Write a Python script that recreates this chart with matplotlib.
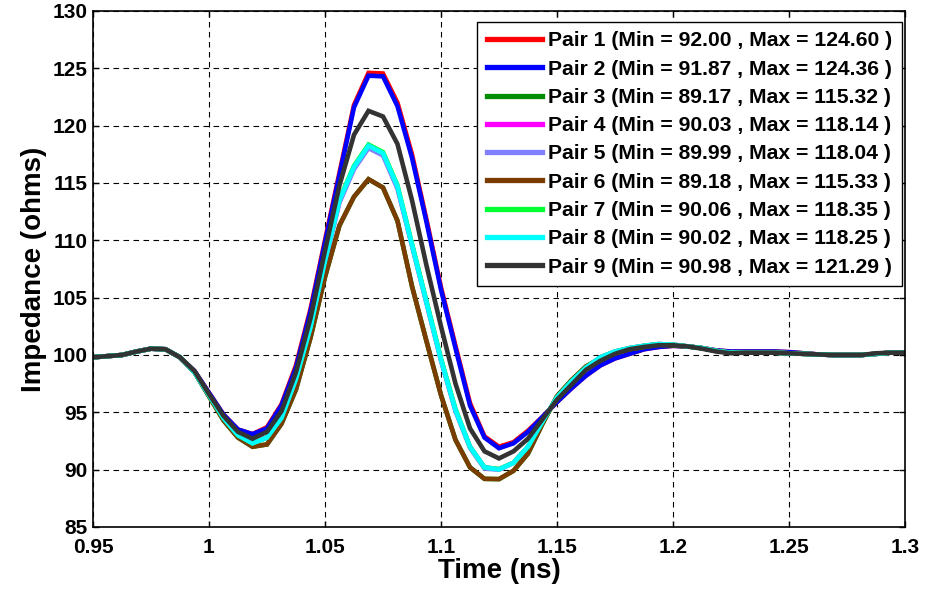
import numpy as np
import matplotlib
matplotlib.use('Agg')
import matplotlib.pyplot as plt

plt.rcParams['font.family'] = ['Liberation Sans', 'DejaVu Sans']
plt.rcParams['font.weight'] = 'bold'

# time axis: 0.95 .. 1.3 ns, step 6.25 ps
t_ns = np.linspace(0.95, 1.3, 57)

pair1 = [99.8, 99.9, 100.0, 100.3, 100.55, 100.5, 99.8, 98.6, 96.7, 94.8,
         93.5, 93.1, 93.7, 95.7, 99.1, 104.0, 110.0, 115.9, 121.8, 124.6,
         124.55, 122.0, 117.5, 111.8, 105.9, 100.8, 95.8, 92.9, 92.0, 92.4,
         93.4, 94.6, 95.9, 97.1, 98.2, 99.1, 99.7, 100.1, 100.5, 100.7,
         100.8, 100.75, 100.6, 100.4, 100.3, 100.3, 100.3, 100.3, 100.25, 100.15,
         100.05, 100.0, 100.0, 100.0, 100.1, 100.2, 100.2]
pair2 = [99.8, 99.9, 100.0, 100.3, 100.55, 100.5, 99.8, 98.6, 96.7, 94.8,
         93.5, 93.1, 93.6, 95.6, 98.9, 103.8, 109.8, 115.7, 121.6, 124.36,
         124.3, 121.7, 117.2, 111.6, 105.7, 100.6, 95.6, 92.8, 91.87, 92.3,
         93.3, 94.6, 95.9, 97.1, 98.2, 99.1, 99.7, 100.1, 100.5, 100.7,
         100.8, 100.75, 100.6, 100.4, 100.3, 100.3, 100.3, 100.3, 100.25, 100.15,
         100.05, 100.0, 100.0, 100.0, 100.1, 100.2, 100.2]
pair3 = [99.8, 99.9, 100.0, 100.3, 100.55, 100.5, 99.8, 98.5, 96.4, 94.3,
         92.8, 92.0, 92.2, 94.0, 97.0, 101.5, 106.8, 111.3, 113.8, 115.32,
         114.6, 111.7, 106.0, 101.2, 96.5, 92.6, 90.2, 89.2, 89.17, 89.9,
         91.4, 94.0, 96.4, 97.8, 99.0, 99.7, 100.2, 100.5, 100.7, 100.9,
         100.85, 100.75, 100.6, 100.35, 100.2, 100.2, 100.2, 100.2, 100.15, 100.1,
         100.05, 100.0, 100.0, 100.0, 100.1, 100.2, 100.2]
pair4 = [99.8, 99.9, 100.0, 100.3, 100.55, 100.5, 99.8, 98.5, 96.5, 94.5,
         93.0, 92.3, 92.8, 94.5, 97.9, 102.4, 108.2, 113.4, 116.3, 118.14,
         117.5, 114.6, 109.6, 104.6, 99.6, 95.2, 92.0, 90.2, 90.03, 90.6,
         92.0, 94.2, 96.3, 97.7, 98.9, 99.8, 100.3, 100.6, 100.8, 100.95,
         100.9, 100.75, 100.6, 100.35, 100.2, 100.2, 100.2, 100.2, 100.15, 100.1,
         100.05, 100.0, 100.0, 100.0, 100.1, 100.2, 100.2]
pair5 = [99.8, 99.9, 100.0, 100.3, 100.55, 100.5, 99.8, 98.5, 96.5, 94.5,
         93.0, 92.3, 92.8, 94.5, 97.8, 102.3, 108.1, 113.3, 116.2, 118.04,
         117.4, 114.5, 109.5, 104.5, 99.5, 95.1, 91.9, 90.1, 89.99, 90.6,
         92.0, 94.2, 96.3, 97.7, 98.9, 99.8, 100.3, 100.6, 100.8, 100.95,
         100.9, 100.75, 100.6, 100.35, 100.2, 100.2, 100.2, 100.2, 100.15, 100.1,
         100.05, 100.0, 100.0, 100.0, 100.1, 100.2, 100.2]
pair6 = [99.8, 99.9, 100.0, 100.3, 100.55, 100.5, 99.8, 98.5, 96.4, 94.3,
         92.8, 92.0, 92.2, 94.0, 97.0, 101.5, 106.8, 111.3, 113.8, 115.33,
         114.6, 111.7, 106.0, 101.2, 96.5, 92.6, 90.2, 89.2, 89.18, 89.9,
         91.4, 94.0, 96.4, 97.8, 99.0, 99.7, 100.2, 100.5, 100.7, 100.9,
         100.85, 100.75, 100.6, 100.35, 100.2, 100.2, 100.2, 100.2, 100.15, 100.1,
         100.05, 100.0, 100.0, 100.0, 100.1, 100.2, 100.2]
pair7 = [99.8, 99.9, 100.0, 100.3, 100.55, 100.5, 99.8, 98.5, 96.5, 94.5,
         93.0, 92.3, 92.8, 94.6, 98.0, 102.5, 108.4, 113.6, 116.5, 118.35,
         117.7, 114.8, 109.7, 104.7, 99.7, 95.3, 92.0, 90.2, 90.06, 90.6,
         92.0, 94.2, 96.3, 97.7, 98.9, 99.8, 100.3, 100.6, 100.8, 100.95,
         100.9, 100.75, 100.6, 100.35, 100.2, 100.2, 100.2, 100.2, 100.15, 100.1,
         100.05, 100.0, 100.0, 100.0, 100.1, 100.2, 100.2]
pair8 = [99.8, 99.9, 100.0, 100.3, 100.55, 100.5, 99.8, 98.5, 96.5, 94.5,
         93.0, 92.3, 92.8, 94.5, 97.9, 102.4, 108.2, 113.5, 116.4, 118.25,
         117.6, 114.7, 109.6, 104.6, 99.6, 95.2, 92.0, 90.2, 90.02, 90.6,
         92.0, 94.2, 96.3, 97.7, 98.9, 99.8, 100.3, 100.6, 100.8, 100.95,
         100.9, 100.75, 100.6, 100.35, 100.2, 100.2, 100.2, 100.2, 100.15, 100.1,
         100.05, 100.0, 100.0, 100.0, 100.1, 100.2, 100.2]
pair9 = [99.8, 99.9, 100.0, 100.3, 100.55, 100.5, 99.8, 98.6, 96.6, 94.7,
         93.3, 92.7, 93.3, 95.1, 98.5, 103.2, 109.1, 114.8, 119.2, 121.29,
         120.8, 118.4, 113.5, 107.8, 102.5, 97.5, 93.6, 91.6, 90.98, 91.6,
         92.7, 94.4, 96.1, 97.4, 98.7, 99.5, 100.1, 100.5, 100.7, 100.85,
         100.85, 100.75, 100.55, 100.3, 100.15, 100.2, 100.2, 100.2, 100.15, 100.1,
         100.05, 100.0, 100.0, 100.0, 100.15, 100.2, 100.2]

series = [pair1, pair2, pair3, pair4, pair5, pair6, pair7, pair8, pair9]
colors = ['#ff0000', '#0000ff', '#008c00', '#ff00ff', '#8080ff',
          '#7a3c00', '#00ff33', '#00ffff', '#333333']
labels = []
for i, s in enumerate(series):
    labels.append('Pair %d (Min = %.2f , Max = %.2f )' % (i + 1, min(s), max(s)))

fig = plt.figure(figsize=(9.28, 5.91), dpi=100)
ax = fig.add_axes([0.1002, 0.1083, 0.8750, 0.8731])

for s, c, lab in zip(series, colors, labels):
    ax.plot(t_ns, s, color=c, linewidth=3.3, label=lab, solid_joinstyle='miter')

ax.set_xlim(0.95, 1.3)
ax.set_ylim(85, 130)
ax.set_xticks([0.95, 1.0, 1.05, 1.1, 1.15, 1.2, 1.25, 1.3])
ax.set_xticklabels(['0.95', '1', '1.05', '1.1', '1.15', '1.2', '1.25', '1.3'])
ax.set_yticks(np.arange(85, 131, 5))

ax.grid(True, color='black', linestyle=(0, (5, 4)), linewidth=0.8)
ax.tick_params(direction='in', length=4, width=1, top=True, right=True,
               labelsize=15)
ax.tick_params(axis='x', pad=8)
ax.tick_params(axis='y', pad=4)
for sp in ax.spines.values():
    sp.set_linewidth(1.2)

ax.set_xlabel('Time (ns)', fontsize=20, fontweight='bold', labelpad=1)
ax.set_ylabel('Impedance (ohms)', fontsize=20, fontweight='bold', labelpad=4)

leg = ax.legend(loc='upper right', bbox_to_anchor=(0.996, 0.979), fontsize=15.2,
                fancybox=False, framealpha=1, edgecolor='black',
                handlelength=2.6, labelspacing=0.44, borderaxespad=0,
                borderpad=0.45, handletextpad=0.3)
leg.get_frame().set_linewidth(1.0)
for line in leg.get_lines():
    line.set_linewidth(3.8)

fig.savefig('out.png', dpi=100)
